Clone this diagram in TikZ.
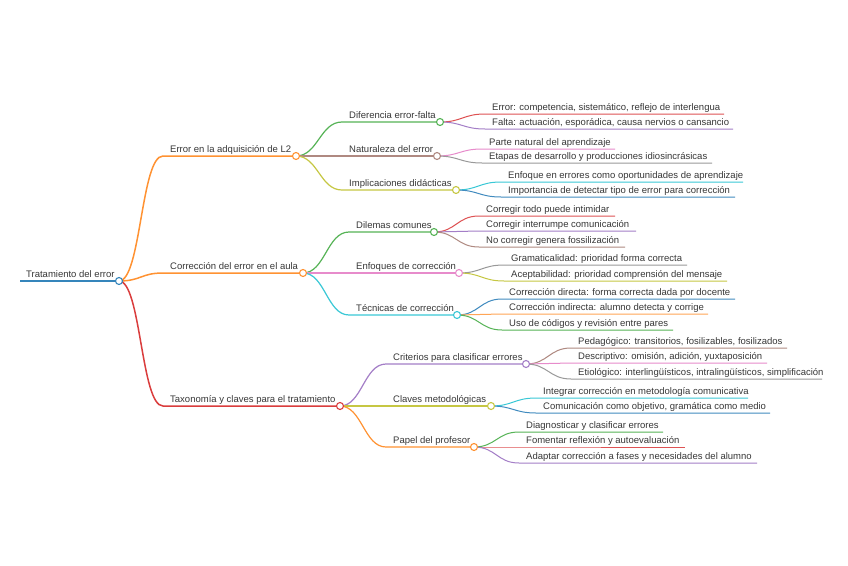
\documentclass[tikz,border=0pt]{standalone}
\usepackage{fontspec}
\setmainfont{Liberation Sans}
\definecolor{cBlue}{HTML}{1F77B4}
\definecolor{cOrange}{HTML}{FF7F0E}
\definecolor{cGreen}{HTML}{2CA02C}
\definecolor{cRed}{HTML}{D62728}
\definecolor{cPurple}{HTML}{9467BD}
\definecolor{cBrown}{HTML}{8C564B}
\definecolor{cPink}{HTML}{E377C2}
\definecolor{cGray}{HTML}{7F7F7F}
\definecolor{cOlive}{HTML}{BCBD22}
\definecolor{cCyan}{HTML}{17BECF}
\definecolor{txt}{RGB}{55,55,55}
\newcommand{\mmbranch}[8]{%
  \coordinate (#1s) at (#5,#6);
  \coordinate (#1) at (#7,#6);
  \draw[line width=#4, draw=#3] (#2) .. controls +(22,0) and +(-22,0) .. (#1s) -- (#1);
  \node[lbl] (#1t) at ([xshift=7pt,yshift=4pt]#1s) {#8};
}
\begin{document}
\begin{tikzpicture}[x=1pt,y=-1pt,
  lbl/.style={anchor=base west, inner sep=0pt, text=txt, font=\fontsize{9.5}{11}\selectfont},
  dot/.style={circle, fill=white, minimum size=7pt, inner sep=0pt, line width=1.1pt}]
\useasboundingbox[fill=white] (0,0) rectangle (848,565);
% root
\coordinate (R0) at (20,281);
\coordinate (R) at (119,281);
\draw[line width=1.8pt, draw=cBlue!90] (R0) -- (R);
\node[lbl] (Rt) at (26,277) {Tratamiento del error};
% level 1
\mmbranch{A}{R}{cOrange!85}{1.5pt}{163}{156}{296}{Error en la adquisición de L2}
\mmbranch{B}{R}{cOrange!85}{1.5pt}{163}{273}{303}{Corrección del error en el aula}
\mmbranch{C}{R}{cRed!90}{1.5pt}{163}{406}{340}{Taxonomía y claves para el tratamiento}
% level 2
\mmbranch{A1}{A}{cGreen!80}{1.2pt}{342}{122}{440}{Diferencia error-falta}
\mmbranch{A2}{A}{cBrown!70}{1.2pt}{342}{156}{437}{Naturaleza del error}
\mmbranch{A3}{A}{cOlive!85}{1.2pt}{342}{190}{456}{Implicaciones didácticas}
\mmbranch{B1}{B}{cGreen!80}{1.2pt}{349}{232}{434}{Dilemas comunes}
\mmbranch{B2}{B}{cPink!85}{1.2pt}{349}{273}{459}{Enfoques de corrección}
\mmbranch{B3}{B}{cCyan!85}{1.2pt}{349}{315}{457}{Técnicas de corrección}
\mmbranch{C1}{C}{cPurple!85}{1.2pt}{386}{364}{526}{Criterios para clasificar errores}
\mmbranch{C2}{C}{cOlive!85}{1.2pt}{386}{406}{491}{Claves metodológicas}
\mmbranch{C3}{C}{cOrange!85}{1.2pt}{386}{447}{474}{Papel del profesor}
% level 3
\mmbranch{A1a}{A1}{cRed!80}{1pt}{485}{114}{724}{Error: competencia, sistemático, reflejo de interlengua}
\mmbranch{A1b}{A1}{cPurple!85}{1pt}{485}{129}{733}{Falta: actuación, esporádica, causa nervios o cansancio}
\mmbranch{A2a}{A2}{cPink!85}{1pt}{482}{149}{615}{Parte natural del aprendizaje}
\mmbranch{A2b}{A2}{cGray!80}{1pt}{482}{163}{712}{Etapas de desarrollo y producciones idiosincrásicas}
\mmbranch{A3a}{A3}{cCyan!85}{1pt}{501}{182}{743}{Enfoque en errores como oportunidades de aprendizaje}
\mmbranch{A3b}{A3}{cBlue!85}{1pt}{501}{197}{735}{Importancia de detectar tipo de error para corrección}
\mmbranch{B1a}{B1}{cRed!80}{1pt}{479}{216}{615}{Corregir todo puede intimidar}
\mmbranch{B1b}{B1}{cPurple!85}{1pt}{479}{231}{636}{Corregir interrumpe comunicación}
\mmbranch{B1c}{B1}{cBrown!70}{1pt}{479}{247}{625}{No corregir genera fossilización}
\mmbranch{B2a}{B2}{cGray!80}{1pt}{504}{265}{687}{Gramaticalidad: prioridad forma correcta}
\mmbranch{B2b}{B2}{cOlive!85}{1pt}{504}{281}{727}{Aceptabilidad: prioridad comprensión del mensaje}
\mmbranch{B3a}{B3}{cBlue!85}{1pt}{502}{299}{735}{Corrección directa: forma correcta dada por docente}
\mmbranch{B3b}{B3}{cOrange!70}{1pt}{502}{314}{708}{Corrección indirecta: alumno detecta y corrige}
\mmbranch{B3c}{B3}{cGreen!80}{1pt}{502}{330}{673}{Uso de códigos y revisión entre pares}
\mmbranch{C1a}{C1}{cBrown!70}{1pt}{571}{348}{787}{Pedagógico: transitorios, fosilizables, fosilizados}
\mmbranch{C1b}{C1}{cPink!85}{1pt}{571}{363}{767}{Descriptivo: omisión, adición, yuxtaposición}
\mmbranch{C1c}{C1}{cGray!80}{1pt}{571}{379}{822}{Etiológico: interlingüísticos, intralingüísticos, simplificación}
\mmbranch{C2a}{C2}{cCyan!85}{1pt}{536}{398}{748}{Integrar corrección en metodología comunicativa}
\mmbranch{C2b}{C2}{cBlue!85}{1pt}{536}{413}{770}{Comunicación como objetivo, gramática como medio}
\mmbranch{C3a}{C3}{cGreen!80}{1pt}{519}{432}{663}{Diagnosticar y clasificar errores}
\mmbranch{C3b}{C3}{cRed!80}{1pt}{519}{447}{685}{Fomentar reflexión y autoevaluación}
\mmbranch{C3c}{C3}{cPurple!85}{1pt}{519}{463}{757}{Adaptar corrección a fases y necesidades del alumno}
% circles on top
\node[dot, draw=cBlue!90] (Rc) at (R) {};
\node[dot, draw=cOrange!85] (Ac) at (A) {};
\node[dot, draw=cOrange!85] (Bc) at (B) {};
\node[dot, draw=cRed!90] (Cc) at (C) {};
\node[dot, draw=cGreen!80] (A1c) at (A1) {};
\node[dot, draw=cBrown!70] (A2c) at (A2) {};
\node[dot, draw=cOlive!85] (A3c) at (A3) {};
\node[dot, draw=cGreen!80] (B1c) at (B1) {};
\node[dot, draw=cPink!85] (B2c) at (B2) {};
\node[dot, draw=cCyan!85] (B3c) at (B3) {};
\node[dot, draw=cPurple!85] (C1c) at (C1) {};
\node[dot, draw=cOlive!85] (C2c) at (C2) {};
\node[dot, draw=cOrange!85] (C3c) at (C3) {};
\end{tikzpicture}
\end{document}
